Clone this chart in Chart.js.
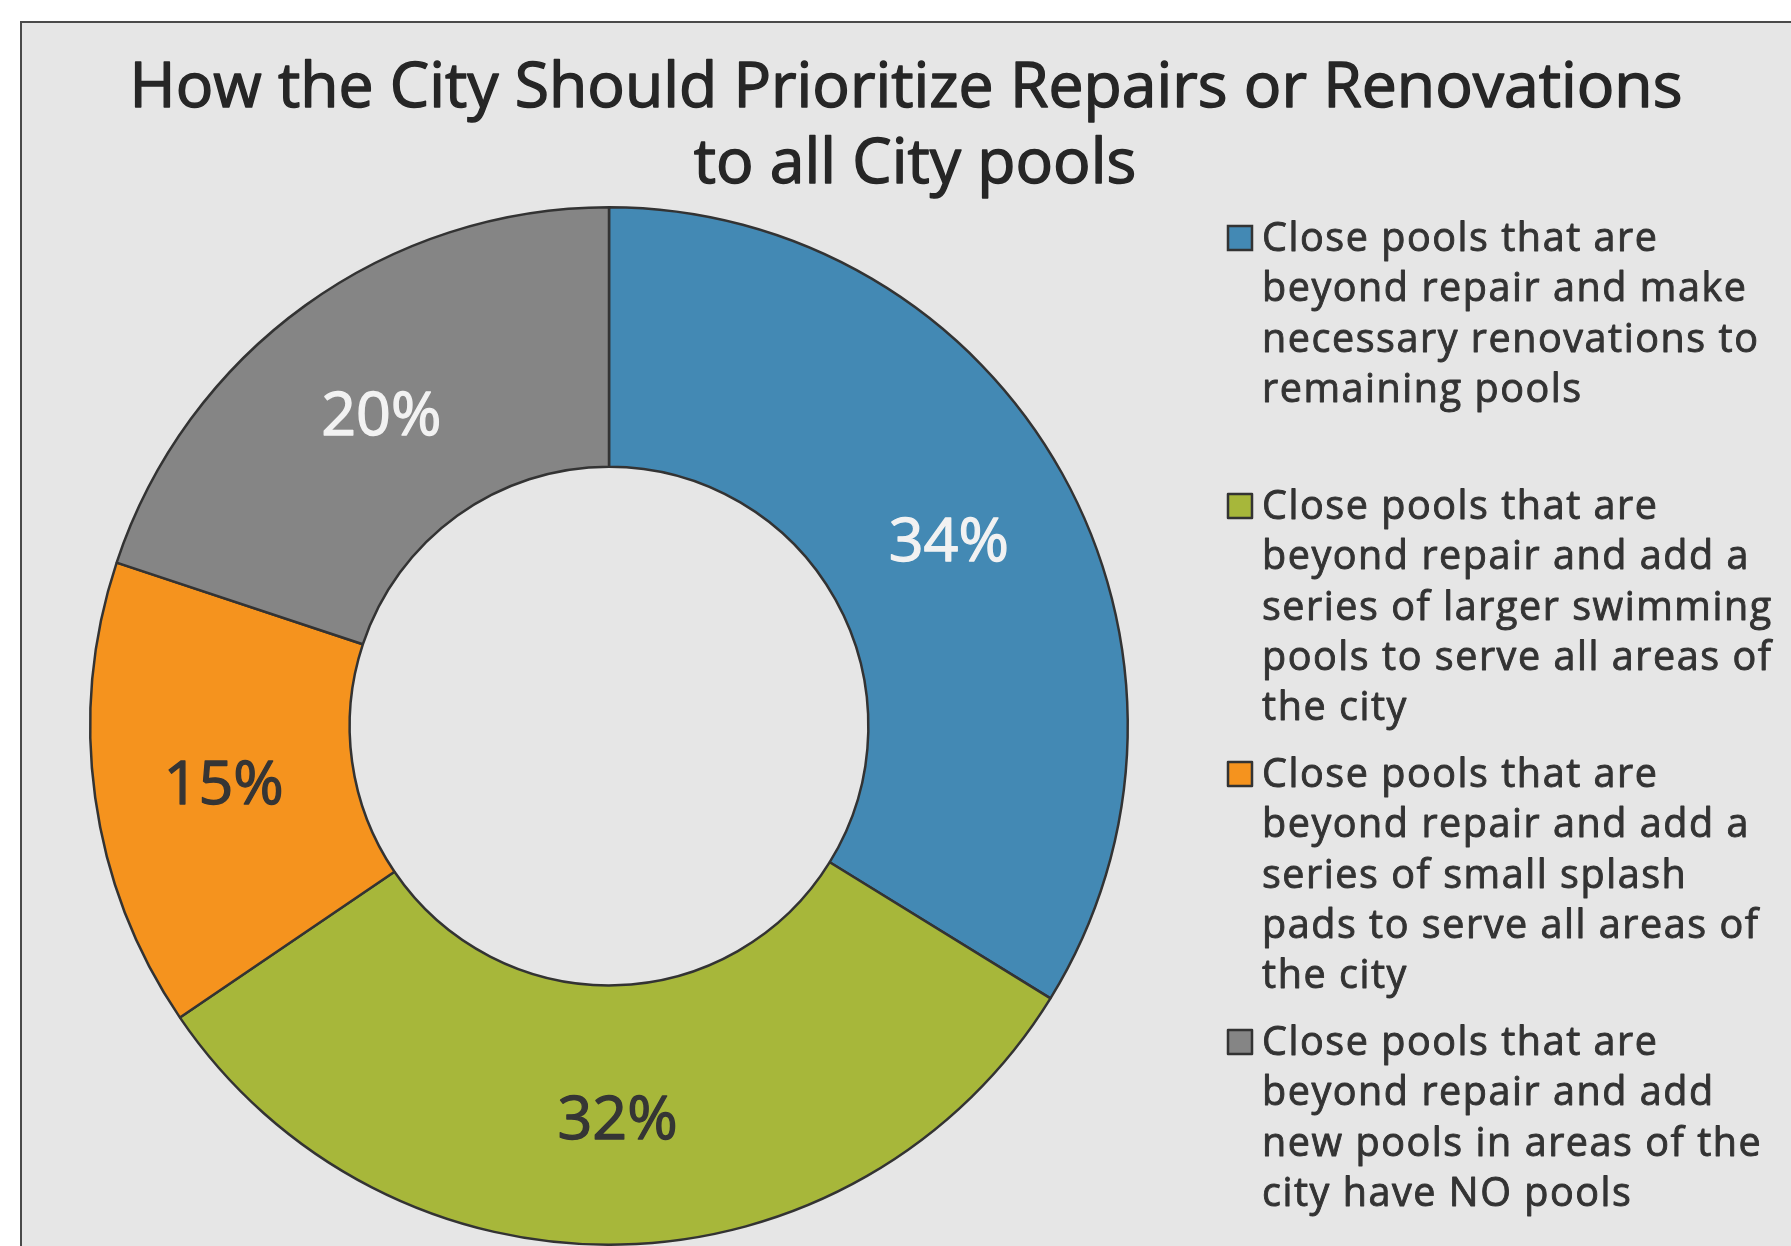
<!DOCTYPE html>
<html>
<head>
<meta charset="utf-8">
<script src="https://cdn.jsdelivr.net/npm/chart.js@4"></script>
<style>
  html, body { margin: 0; padding: 0; background: #ffffff; }
  #wrap { width: 1791px; height: 1246px; position: relative; }
  canvas { display: block; }
</style>
</head>
<body>
<div id="wrap"><canvas id="c" width="1791" height="1246"></canvas></div>
<script>
// ---- data ----
const titleLines = ["How the City Should Prioritize Repairs or Renovations", "to all City pools"];
const categories = [
  ["Close pools that are", "beyond repair and make", "necessary renovations to", "remaining pools"],
  ["Close pools that are", "beyond repair and add a", "series of larger swimming", "pools to serve all areas of", "the city"],
  ["Close pools that are", "beyond repair and add a", "series of small splash", "pads to serve all areas of", "the city"],
  ["Close pools that are", "beyond repair and add", "new pools in areas of the", "city have NO pools"]
];
const shares = [33.8, 31.7, 14.6, 19.9];
const sliceColors = ["#4389B4", "#A7B73A", "#F5931E", "#858585"];
const labelColors = ["#F2F2F2", "#353535", "#353535", "#F2F2F2"];

const FONT = "'Open Sans', Lato, sans-serif";

// layout constants
const TITLE_WIDTH = 1555;          // width of the first title line
const LEGEND_REF_WIDTH = 497;      // width of "necessary renovations to"

function heavyText(ctx, txt, x, y, w) {
  ctx.lineWidth = w;
  ctx.lineJoin = 'round';
  ctx.strokeStyle = ctx.fillStyle;
  ctx.strokeText(txt, x, y);
  ctx.fillText(txt, x, y);
}

const framePlugin = {
  id: 'frame',
  beforeDraw(chart) {
    const ctx = chart.ctx;
    ctx.save();
    ctx.fillStyle = '#ffffff';
    ctx.fillRect(0, 0, chart.width, chart.height);
    ctx.fillStyle = '#E6E6E6';
    ctx.fillRect(21, 22, chart.width, chart.height);
    ctx.strokeStyle = '#4a4a4a';
    ctx.lineWidth = 2;
    ctx.strokeRect(21, 22, chart.width + 50, chart.height + 50);
    // title
    ctx.font = "400 60px " + FONT;
    const w = ctx.measureText(titleLines[0]).width;
    const size = 60 * (TITLE_WIDTH - 2) / w;
    ctx.font = "400 " + size.toFixed(2) + "px " + FONT;
    ctx.fillStyle = '#262626';
    ctx.textAlign = 'center';
    ctx.textBaseline = 'alphabetic';
    heavyText(ctx, titleLines[0], 906, 107, 1.4);
    heavyText(ctx, titleLines[1], 915, 183, 1.4);
    ctx.restore();
  }
};

const labelPlugin = {
  id: 'sliceLabels',
  afterDatasetsDraw(chart) {
    const ctx = chart.ctx;
    const meta = chart.getDatasetMeta(0);
    const data = chart.data.datasets[0].data;
    const total = data.reduce((a, b) => a + b, 0);
    ctx.save();
    ctx.font = "400 61px " + FONT;
    ctx.textAlign = 'center';
    ctx.textBaseline = 'middle';
    meta.data.forEach((arc, i) => {
      const p = arc.getCenterPoint();
      ctx.fillStyle = labelColors[i];
      heavyText(ctx, Math.round(data[i] / total * 100) + '%', p.x, p.y + 7, 1.3);
    });
    ctx.restore();
  }
};

const legendPlugin = {
  id: 'wrapLegend',
  afterDraw(chart) {
    const ctx = chart.ctx;
    const ds = chart.data.datasets[0];
    ctx.save();
    ctx.font = "400 39.5px " + FONT;
    const refText = categories[0][2];
    const w0 = ctx.measureText(refText).width;
    const spacing = Math.max(0, (LEGEND_REF_WIDTH - 1 - w0) / (refText.length - 1));
    ctx.letterSpacing = spacing.toFixed(2) + 'px';
    ctx.textAlign = 'left';
    ctx.textBaseline = 'alphabetic';
    const x0 = 1228, tx = 1262, top0 = 226, itemStep = 268, lineH = 50.3;
    chart.data.labels.forEach((lines, i) => {
      const top = top0 + i * itemStep;
      ctx.fillStyle = ds.backgroundColor[i];
      ctx.fillRect(x0, top, 24, 24);
      ctx.strokeStyle = '#333333';
      ctx.lineWidth = 2.5;
      ctx.strokeRect(x0, top, 24, 24);
      ctx.fillStyle = '#333333';
      lines.forEach((ln, j) => heavyText(ctx, ln, tx, top + 25 + j * lineH, 0.9));
    });
    ctx.restore();
  }
};

new Chart(document.getElementById('c'), {
  type: 'doughnut',
  data: {
    labels: categories,
    datasets: [{
      data: shares,
      backgroundColor: sliceColors,
      borderColor: '#333333',
      borderWidth: 2.5
    }]
  },
  options: {
    responsive: false,
    animation: false,
    devicePixelRatio: 1,
    cutout: '50%',
    layout: { padding: { left: 89, right: 662, top: 206, bottom: 0 } },
    plugins: {
      legend: { display: false },
      title: { display: false },
      tooltip: { enabled: false }
    }
  },
  plugins: [framePlugin, labelPlugin, legendPlugin]
});
</script>
</body>
</html>
